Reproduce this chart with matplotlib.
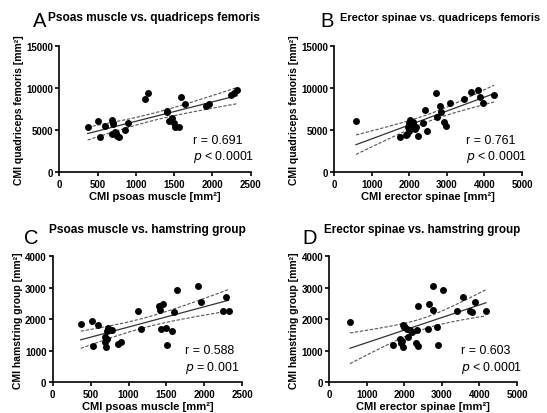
import numpy as np
import matplotlib
matplotlib.use("Agg")
import matplotlib.pyplot as plt

plt.rcParams['font.family'] = ['Liberation Sans', 'DejaVu Sans']

# Panel A: psoas vs quadriceps
a_x = [370, 510, 530, 600, 690, 705, 700, 685, 725, 750, 785, 740, 860, 895, 1120,
       1165, 1405, 1410, 1430, 1470, 1500, 1510, 1565, 1590, 1645, 1915, 1955, 2240, 2285, 2320]
a_y = [5350, 6100, 4150, 5500, 6200, 5850, 5700, 4550, 4800, 4350, 4200, 4700, 5000, 5800, 8700,
       9400, 7300, 7100, 6100, 6450, 5900, 5400, 5400, 8950, 8150, 7850, 8050, 9150, 9400, 9700]

# Panel B: erector spinae vs quadriceps
b_x = [578, 1750, 1929, 1920, 1955, 1990, 2017, 2000, 2062, 2105, 2100, 2150, 2180, 2222, 2371,
       2416, 2462, 2701, 2744, 2816, 2834, 2922, 2976, 3082, 3455, 3634, 3836, 3882, 3969, 4254]
b_y = [6100, 4150, 4550, 4400, 5330, 4900, 6230, 5900, 5600, 5840, 6000, 5130, 5400, 4270, 5900,
       7380, 4900, 9400, 6500, 7900, 7180, 6000, 5450, 8180, 8690, 9480, 9790, 8960, 8180, 9200]

# Panel C: psoas vs hamstring
c_x = [370, 515, 535, 600, 690, 700, 690, 710, 735, 755, 785, 720, 865, 895, 1120,
       1170, 1400, 1410, 1430, 1460, 1500, 1505, 1570, 1595, 1645, 1910, 1955, 2240, 2290, 2320]
c_y = [1850, 1940, 1160, 1820, 1430, 1130, 1270, 1380, 1720, 1660, 1650, 1620, 1210, 1270, 2270,
       1690, 2410, 2310, 1690, 2490, 1730, 1190, 1640, 2230, 2940, 3050, 2560, 2270, 2720, 2260]

# Panel D: erector spinae vs hamstring
d_x = [550, 1700, 1880, 1910, 1930, 1970, 1955, 1990, 2000, 2060, 2100, 2150, 2200, 2310, 2370,
       2330, 2370, 2640, 2665, 2755, 2755, 2860, 2905, 3020, 3395, 3570, 3750, 3795, 3880, 4175]
d_y = [1930, 1180, 1380, 1240, 1300, 1110, 1820, 1750, 1800, 1690, 1430, 1650, 1600, 1240, 1150,
       1660, 2430, 1690, 2490, 2310, 3060, 1750, 1190, 2940, 2270, 2720, 2270, 2220, 2560, 2270]

titles = ["Psoas muscle vs. quadriceps femoris", "Erector spinae vs. quadriceps femoris",
          "Psoas muscle vs. hamstring group", "Erector spinae vs. hamstring group"]
letters = ["A", "B", "C", "D"]
xlabels = ["CMI psoas muscle [mm²]", "CMI erector spinae [mm²]",
           "CMI psoas muscle [mm²]", "CMI erector spinae [mm²]"]
ylabels = ["CMI quadriceps femoris [mm²]", "CMI quadriceps femoris [mm²]",
           "CMI hamstring group [mm²]", "CMI hamstring group [mm²]"]
r_texts = ["r = 0.691", "r = 0.761", "r = 0.588", "r = 0.603"]
p_ops = ["<", "<", "=", "<"]
p_vals = ["0.0001", "0.0001", "0.001", "0.0001"]
x_max = [2500, 5000, 2500, 5000]
x_step = [500, 1000, 500, 1000]
y_max = [15000, 15000, 4000, 4000]
y_step = [5000, 5000, 1000, 1000]

W, H = 547, 414
fig = plt.figure(figsize=(W / 100, H / 100), dpi=100)

# axes boxes in pixels: left, right, top, bottom
boxes = [(59.3, 250.7, 46.7, 173.3), (334.3, 522.0, 46.7, 173.3),
         (52.7, 242.3, 257.3, 383.3), (329.3, 517.0, 257.3, 383.3)]
letter_pos = [(33, 27), (320, 27), (24, 244), (302, 244)]
title_pos = [(48, 18), (340, 18), (49, 230), (324, 230)]
title_size = [8.6, 7.9, 8.6, 8.4]

datasets = [(a_x, a_y), (b_x, b_y), (c_x, c_y), (d_x, d_y)]
T_CRIT = 2.048

for i in range(4):
    l, r, t, b = boxes[i]
    ax = fig.add_axes([l / W, 1 - b / H, (r - l) / W, (b - t) / H])
    x = np.array(datasets[i][0], float)
    y = np.array(datasets[i][1], float)
    slope, icpt = np.polyfit(x, y, 1)
    n = len(x)
    resid = y - (slope * x + icpt)
    s = np.sqrt(np.sum(resid ** 2) / (n - 2))
    xm = x.mean()
    sxx = np.sum((x - xm) ** 2)
    xs = np.linspace(x.min(), x.max(), 100)
    yf = slope * xs + icpt
    ci = T_CRIT * s * np.sqrt(1 / n + (xs - xm) ** 2 / sxx)
    ax.plot(xs, yf, color='#333333', lw=0.9, zorder=2)
    ax.plot(xs, yf + ci, color='#555555', lw=0.8, ls=(0, (3, 1.5)), zorder=2)
    ax.plot(xs, yf - ci, color='#555555', lw=0.8, ls=(0, (3, 1.5)), zorder=2)
    ax.plot(x, y, 'o', color='black', ms=5.0, mew=0, zorder=3)

    ax.set_xlim(0, x_max[i])
    ax.set_ylim(0, y_max[i])
    ax.set_xticks(np.arange(0, x_max[i] + 1, x_step[i]))
    ax.set_yticks(np.arange(0, y_max[i] + 1, y_step[i]))
    for sp in ['top', 'right']:
        ax.spines[sp].set_visible(False)
    for sp in ['left', 'bottom']:
        ax.spines[sp].set_linewidth(1.2)
    ax.tick_params(axis='both', direction='out', length=3, width=1.2, labelsize=7.0, pad=1.5)
    for lab in ax.get_xticklabels() + ax.get_yticklabels():
        lab.set_fontweight('bold')
    ax.set_xlabel(xlabels[i], fontsize=8.0, fontweight='bold', labelpad=1.5)
    ax.set_ylabel(ylabels[i], fontsize=7.5, fontweight='bold', labelpad=1.5)

    ax.text(0.70, 0.255, r_texts[i], transform=ax.transAxes, fontsize=8.9, ha='left', va='center')
    ax.text(0.70, 0.125, r"$\it{p}$ " + p_ops[i] + " " + p_vals[i], transform=ax.transAxes,
            fontsize=8.9, ha='left', va='center')

    lx, ly = letter_pos[i]
    fig.text(lx / W, 1 - ly / H, letters[i], fontsize=14.5, ha='left', va='baseline')
    tx, ty = title_pos[i]
    fig.text(tx / W, 1 - ty / H, titles[i], fontsize=title_size[i], fontweight='bold',
             ha='left', va='center')

fig.savefig("out.png", dpi=100)
